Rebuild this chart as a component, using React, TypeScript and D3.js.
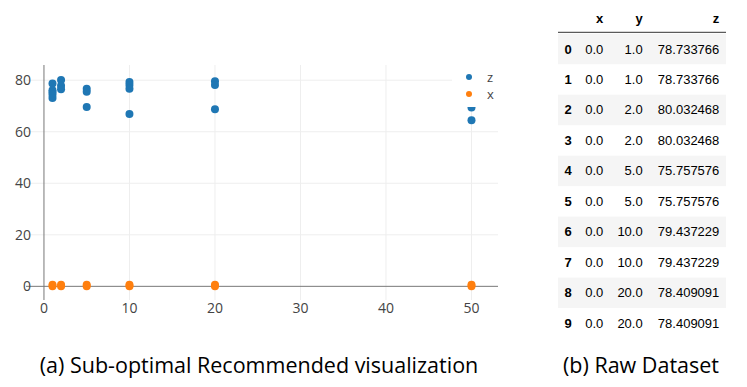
import React, { useEffect, useRef } from "react";
import * as d3 from "d3";

// scatter: series "z" (blue) and "x" (orange), x positions are the y column values
const zPtsX = [1, 1, 1, 1, 1, 2, 2, 2, 5, 5, 5, 10, 10, 10, 10, 20, 20, 20, 50, 50, 50, 50];
const zPtsY = [78.7, 76.1, 75.3, 74.4, 73.1, 80.1, 77.8, 76.5, 76.7, 75.5, 69.6, 79.3, 78.1, 76.7, 66.9, 79.6, 78.1, 68.7, 78.4, 76.0, 69.4, 64.5];
const xPtsX = [1, 1, 2, 2, 5, 5, 10, 10, 20, 20, 50, 50];
const xPtsY = [0, 0.6, 0, 0.6, 0, 0.6, 0, 0.6, 0, 0.6, 0, 0.6];

const xTicks = [0, 10, 20, 30, 40, 50];
const yTicks = [0, 20, 40, 60, 80];
const legendNames = ["z", "x"];
const seriesColors = ["#1f77b4", "#ff7f0e"];

// raw dataset table
const tableIndex = ["0", "1", "2", "3", "4", "5", "6", "7", "8", "9"];
const tableX = ["0.0", "0.0", "0.0", "0.0", "0.0", "0.0", "0.0", "0.0", "0.0", "0.0"];
const tableY = ["1.0", "1.0", "2.0", "2.0", "5.0", "5.0", "10.0", "10.0", "20.0", "20.0"];
const tableZ = ["78.733766", "78.733766", "80.032468", "80.032468", "75.757576", "75.757576", "79.437229", "79.437229", "78.409091", "78.409091"];
const tableCols = ["x", "y", "z"];

const App = () => {
    const container = useRef<SVGSVGElement>(null);

    useEffect(() => {
        const svg = d3.select(container.current);
        svg.selectAll("*").remove();

        const x = d3.scaleLinear().domain([-2.1, 53.1]).range([26, 498]);
        const y = d3.scaleLinear().domain([-5.3, 85.9]).range([300, 65]);
        const tickFont = "'Open Sans', sans-serif";

        const plot = svg.append("g");

        // grid
        plot.selectAll(".vg")
            .data(xTicks.filter((d) => d !== 0))
            .enter()
            .append("line")
            .attr("x1", (d) => x(d)).attr("x2", (d) => x(d))
            .attr("y1", y.range()[1]).attr("y2", y.range()[0])
            .attr("stroke", "#eee").attr("stroke-width", 1);
        plot.selectAll(".hg")
            .data(yTicks.filter((d) => d !== 0))
            .enter()
            .append("line")
            .attr("x1", x.range()[0]).attr("x2", x.range()[1])
            .attr("y1", (d) => y(d)).attr("y2", (d) => y(d))
            .attr("stroke", "#eee").attr("stroke-width", 1);

        // zero lines
        plot.append("line")
            .attr("x1", x.range()[0]).attr("x2", x.range()[1])
            .attr("y1", y(0)).attr("y2", y(0))
            .attr("stroke", "#777").attr("stroke-width", 1);
        plot.append("line")
            .attr("x1", x(0)).attr("x2", x(0))
            .attr("y1", y.range()[1]).attr("y2", y.range()[0])
            .attr("stroke", "#777").attr("stroke-width", 1);

        // tick labels
        plot.selectAll(".xt")
            .data(xTicks)
            .enter()
            .append("text")
            .attr("x", (d) => x(d))
            .attr("y", 313)
            .attr("text-anchor", "middle")
            .attr("font-family", tickFont)
            .attr("font-size", 14)
            .attr("fill", "#444")
            .text((d) => d);
        plot.selectAll(".yt")
            .data(yTicks)
            .enter()
            .append("text")
            .attr("x", 31)
            .attr("y", (d) => y(d) + 5)
            .attr("text-anchor", "end")
            .attr("font-family", tickFont)
            .attr("font-size", 14)
            .attr("fill", "#444")
            .text((d) => d);

        // points
        plot.selectAll(".pz")
            .data(zPtsX.map((d, i) => [d, zPtsY[i]]))
            .enter()
            .append("circle")
            .attr("cx", (d) => x(d[0]))
            .attr("cy", (d) => y(d[1]))
            .attr("r", 4)
            .attr("fill", seriesColors[0]);
        plot.selectAll(".px")
            .data(xPtsX.map((d, i) => [d, xPtsY[i]]))
            .enter()
            .append("circle")
            .attr("cx", (d) => x(d[0]))
            .attr("cy", (d) => y(d[1]))
            .attr("r", 4)
            .attr("fill", seriesColors[1]);

        // legend
        const legend = plot.append("g").attr("transform", "translate(452,65)");
        legend.append("rect")
            .attr("width", 60).attr("height", 42)
            .attr("fill", "#fff");
        legendNames.forEach((name, i) => {
            legend.append("circle")
                .attr("cx", 17).attr("cy", 12 + i * 17)
                .attr("r", 3)
                .attr("fill", seriesColors[i]);
            legend.append("text")
                .attr("x", 35).attr("y", 16.5 + i * 17)
                .attr("font-family", tickFont)
                .attr("font-size", 13)
                .attr("fill", "#444")
                .text(name);
        });

        // table
        const table = svg.append("g");
        const rowY = d3.scaleLinear().domain([0, 9]).range([49, 323.3]);
        const rowH = 30.5;
        const colRight = [571.7, 603.3, 642.7, 719.3];
        const tFont = "'Liberation Sans', Arial, sans-serif";

        table.selectAll(".rowbg")
            .data(tableIndex.filter((d, i) => i % 2 === 0))
            .enter()
            .append("rect")
            .attr("x", 558)
            .attr("y", (d) => rowY(+d) - rowH / 2)
            .attr("width", 168)
            .attr("height", rowH)
            .attr("fill", "#f5f5f5");
        table.append("line")
            .attr("x1", 558).attr("x2", 726)
            .attr("y1", 32.3).attr("y2", 32.3)
            .attr("stroke", "#333").attr("stroke-width", 1);
        tableCols.forEach((c, j) => {
            table.append("text")
                .attr("x", colRight[j + 1])
                .attr("y", 18 + 4.5)
                .attr("text-anchor", "end")
                .attr("font-family", tFont)
                .attr("font-weight", "bold")
                .attr("font-size", 13)
                .attr("fill", "#000")
                .text(c);
        });
        const cols = [tableIndex, tableX, tableY, tableZ];
        cols.forEach((col, j) => {
            table.selectAll(".c" + j)
                .data(col)
                .enter()
                .append("text")
                .attr("x", colRight[j])
                .attr("y", (d, i) => rowY(i) + 4.5)
                .attr("text-anchor", "end")
                .attr("font-family", tFont)
                .attr("font-weight", j === 0 ? "bold" : "normal")
                .attr("font-size", 13)
                .attr("fill", "#000")
                .text((d) => d);
        });

        // captions
        const capFont = "'Open Sans', sans-serif";
        svg.append("text")
            .attr("x", 259).attr("y", 373)
            .attr("text-anchor", "middle")
            .attr("font-family", capFont)
            .attr("font-size", 21.5)
            .attr("fill", "#000")
            .text("(a) Sub-optimal Recommended visualization");
        svg.append("text")
            .attr("x", 641).attr("y", 373)
            .attr("text-anchor", "middle")
            .attr("font-family", capFont)
            .attr("font-size", 21.5)
            .attr("fill", "#000")
            .text("(b) Raw Dataset");
    }, []);

    return (
        <svg ref={container} width={747} height={387}
            style={{ position: "absolute", left: 0, top: 0, background: "#fff" }}></svg>
    );
};

export default App;
